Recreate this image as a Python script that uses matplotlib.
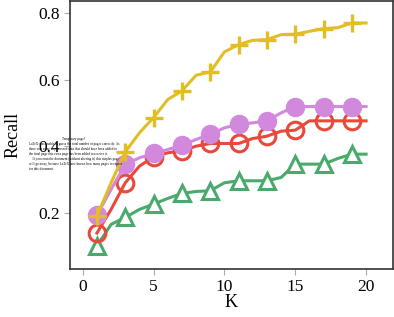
import matplotlib
matplotlib.use("Agg")
import matplotlib.pyplot as plt

# data (K = 1..20, markers on odd K)
K = list(range(1, 21))
recall_yellow = [0.190, 0.29, 0.383, 0.44, 0.486, 0.540, 0.566, 0.613, 0.623, 0.683,
                 0.705, 0.718, 0.720, 0.735, 0.736, 0.745, 0.753, 0.756, 0.770, 0.770]
recall_purple = [0.193, 0.27, 0.345, 0.365, 0.378, 0.39, 0.403, 0.42, 0.436, 0.455,
                 0.466, 0.47, 0.476, 0.50, 0.519, 0.519, 0.519, 0.519, 0.519, 0.519]
recall_red = [0.139, 0.21, 0.290, 0.34, 0.368, 0.38, 0.386, 0.40, 0.408, 0.408,
              0.408, 0.423, 0.430, 0.445, 0.448, 0.476, 0.476, 0.476, 0.476, 0.476]
recall_green = [0.100, 0.165, 0.186, 0.210, 0.226, 0.243, 0.258, 0.264, 0.266, 0.29,
                0.296, 0.296, 0.296, 0.306, 0.346, 0.346, 0.346, 0.363, 0.376, 0.376]

x_ticks = [0, 5, 10, 15, 20]
y_ticks = [0.2, 0.4, 0.6, 0.8]

latex_note = ("LaTeX was unable to guess the total number of pages correctly. As\n"
              "there was some unprocessed data that should have been added to\n"
              "the final page this extra page has been added to receive it.\n"
              "    If you rerun the document (without altering it) this surplus page\n"
              "will go away, because LaTeX now knows how many pages to expect\n"
              "for this document.")

plt.rcParams["font.family"] = ["Liberation Serif", "DejaVu Serif"]

fig = plt.figure(figsize=(3.94, 3.17), dpi=100)
ax = fig.add_axes([0.1777, 0.1514, 0.8198, 0.8454])

ax.plot(K, recall_green, color="#4aa96c", lw=2.2, marker="^", ms=11,
        mfc="white", mec="#4aa96c", mew=2.2, markevery=(0, 2), zorder=2)
ax.plot(K, recall_red, color="#e8493b", lw=2.2, marker="o", ms=12,
        mfc="none", mec="#e8493b", mew=2.2, markevery=(0, 2), zorder=3)
ax.plot(K, recall_purple, color="#d289dd", lw=2.2, marker="o", ms=13,
        mfc="#d289dd", mec="#d289dd", markevery=(0, 2), zorder=4)
ax.plot(K, recall_yellow, color="#e2bd26", lw=2.2, marker="+", ms=13,
        mew=2.4, markevery=(0, 2), zorder=5)

ax.set_xlim(-0.9, 21.9)
ax.set_ylim(0.031, 0.836)
ax.set_xticks(x_ticks)
ax.set_yticks(y_ticks)
ax.set_xlabel("K", fontsize=13, labelpad=-1)
ax.set_ylabel("Recall", fontsize=13, labelpad=12)
ax.tick_params(labelsize=12.5, color="#aaaaaa", length=4, width=0.8)
for s in ax.spines.values():
    s.set_color("#333333")
    s.set_linewidth(1.2)

# stray LaTeX "temporary page" text that sits on the figure
fig.text(73 / 394, 1 - 139 / 317, "Temporary page!", fontsize=2.4,
         ha="center", va="center")
fig.text(29 / 394, 1 - 142 / 317, latex_note, fontsize=2.4,
         ha="left", va="top", linespacing=1.35)

fig.savefig("out.png", dpi=100)
